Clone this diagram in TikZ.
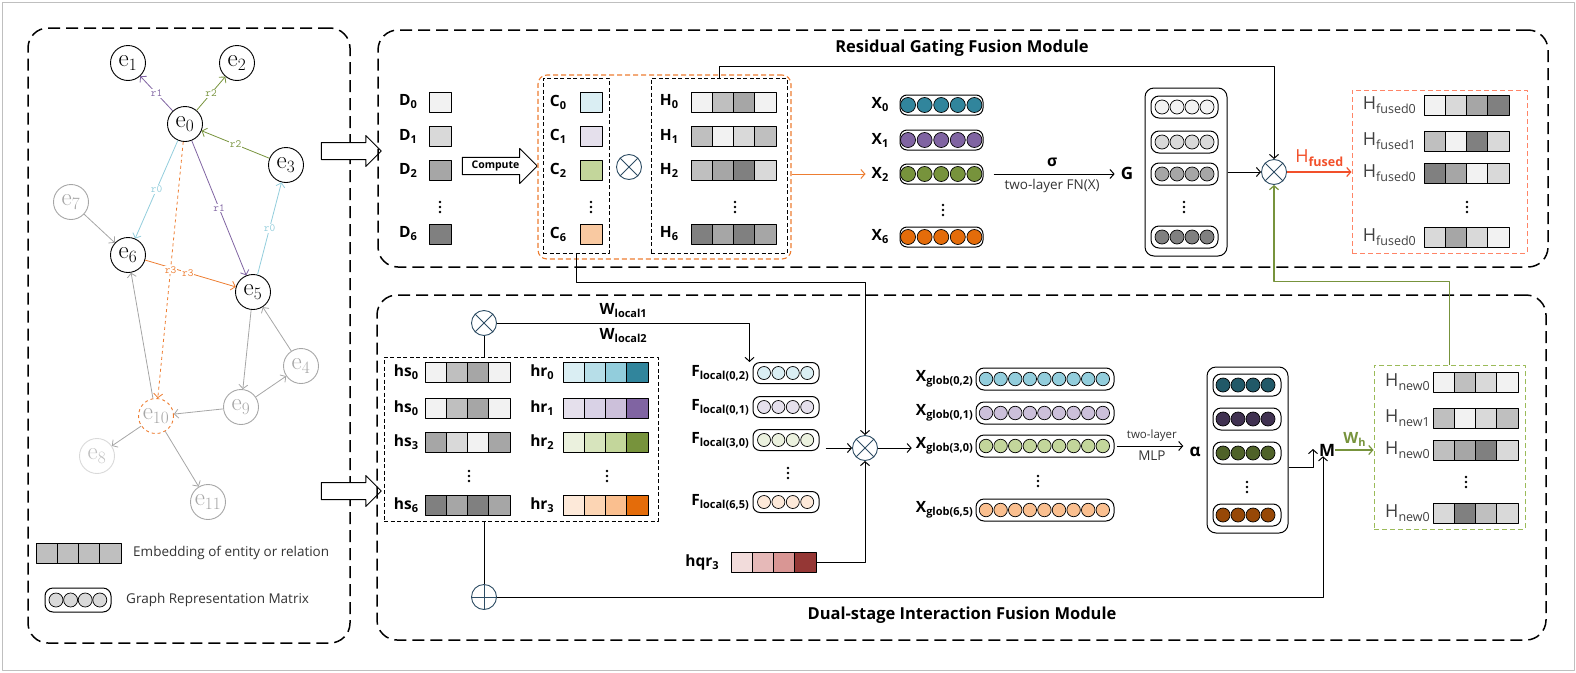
\documentclass[tikz,border=0pt]{standalone}
\usepackage{fontspec}
\newfontfamily\nsans{Open Sans}
\usetikzlibrary{arrows.meta,shapes.arrows,positioning}
\newcommand\sbs[1]{\raisebox{-3pt}{\fontsize{11}{12}\selectfont #1}}
\newcommand\sbr[1]{\raisebox{-3.5pt}{\fontsize{12.5}{13}\selectfont #1}}
% greys
\definecolor{g1}{HTML}{F2F2F2}\definecolor{g2}{HTML}{D9D9D9}\definecolor{g3}{HTML}{BFBFBF}
\definecolor{g4}{HTML}{A6A6A6}\definecolor{g5}{HTML}{808080}
% tints
\definecolor{b1}{HTML}{DAEEF3}\definecolor{b2}{HTML}{B7DEE8}\definecolor{b3}{HTML}{92CDDC}
\definecolor{b4}{HTML}{31859C}\definecolor{b5}{HTML}{215968}
\definecolor{p1}{HTML}{E5E0EC}\definecolor{p2}{HTML}{D9D2E6}\definecolor{p3}{HTML}{CCC0DA}
\definecolor{p4}{HTML}{8064A2}\definecolor{p5}{HTML}{403151}
\definecolor{v1}{HTML}{EBF1DE}\definecolor{v2}{HTML}{D7E4BD}\definecolor{v3}{HTML}{C3D69B}
\definecolor{v4}{HTML}{77933C}\definecolor{v5}{HTML}{4F6228}
\definecolor{o1}{HTML}{FDE9D9}\definecolor{o2}{HTML}{FCD5B4}\definecolor{o3}{HTML}{FABF8F}
\definecolor{o4}{HTML}{E46C0A}\definecolor{o5}{HTML}{974806}
\definecolor{q1}{HTML}{F2DCDB}\definecolor{q2}{HTML}{E6B9B8}\definecolor{q3}{HTML}{D99694}
\definecolor{q4}{HTML}{953735}
\definecolor{peach}{HTML}{F9C9A1}
\definecolor{eorange}{HTML}{ED7D31}
\definecolor{opc}{HTML}{2E4D64}
\definecolor{hred}{HTML}{F2502A}
\definecolor{hdash}{HTML}{FF8466}
\definecolor{hnew}{HTML}{9BBB59}
\begin{document}
\begin{tikzpicture}[x=1pt,y=-1pt,>={Straight Barb[length=4pt,width=9pt]},line join=round,
  modbox/.style={draw,line width=1.5pt,dash pattern=on 12pt off 6pt,rounded corners=20pt},
  inbox/.style={draw,line width=0.9pt,dash pattern=on 4pt off 2.5pt},
  emb/.style={draw,line width=0.9pt,minimum width=21.25pt,minimum height=20pt,inner sep=0pt},
  vecbox/.style={draw,line width=1pt,rounded corners=7pt,minimum height=21pt,inner sep=0pt},
  ball/.style={circle,draw,line width=0.7pt,minimum size=14pt,inner sep=0pt},
  lbl/.style={font=\nsans\bfseries\fontsize{15.5}{17}\selectfont,inner sep=0pt},
  lblr/.style={font=\nsans\fontsize{18}{20}\selectfont,text=black!75,inner sep=0pt},
  ttl/.style={font=\nsans\bfseries\fontsize{16.5}{18}\selectfont,inner sep=0pt},
  txt/.style={font=\nsans\fontsize{13.5}{15}\selectfont,text=black!80,inner sep=1pt},
  ent/.style={circle,draw,line width=0.9pt,minimum size=35pt,inner sep=0pt,font=\fontsize{25}{25}\selectfont},
  entg/.style={ent,draw=g4,text=g4},
  elab/.style={font=\ttfamily\fontsize{11}{11}\selectfont,fill=white,inner sep=0.8pt},
  gedge/.style={->,line width=0.8pt},
  link/.style={line width=1pt},
  opnode/.style={circle,draw=opc,line width=0.9pt,minimum size=25pt,inner sep=0pt,fill=white},
  otimes/.style={opnode,path picture={\draw[opc,line width=0.9pt] (path picture bounding box.north west)--(path picture bounding box.south east)
      (path picture bounding box.north east)--(path picture bounding box.south west);}},
  oplus/.style={opnode,path picture={\draw[opc,line width=0.9pt] (path picture bounding box.north)--(path picture bounding box.south)
      (path picture bounding box.east)--(path picture bounding box.west);}},
  bigarrow/.style={single arrow,draw,line width=1pt,fill=white,inner xsep=0pt,inner ysep=8pt,minimum height=60pt,single arrow head extend=7pt}]
\useasboundingbox (0,0) rectangle (1576,672);
\draw[g3,line width=0.8pt] (2,2) rectangle (1574,670);

% knowledge graph
\node[modbox,minimum width=322pt,minimum height=615pt] (kg) at (189,335.5) {};
\node[ent] (e0) at (185,124) {$\mathrm{e}_{0}$};
\node[ent] (e1) at (128,63) {$\mathrm{e}_{1}$};
\node[ent] (e2) at (237,63) {$\mathrm{e}_{2}$};
\node[ent] (e3) at (286,165) {$\mathrm{e}_{3}$};
\node[ent] (e5) at (253,292) {$\mathrm{e}_{5}$};
\node[ent] (e6) at (128,255) {$\mathrm{e}_{6}$};
\node[entg] (e4) at (301,366) {$\mathrm{e}_{4}$};
\node[entg] (e7) at (71,202) {$\mathrm{e}_{7}$};
\node[entg,draw=g2,text=g3] (e8) at (97,456) {$\mathrm{e}_{8}$};
\node[entg] (e9) at (241,407) {$\mathrm{e}_{9}$};
\node[entg,draw=eorange,dashed] (e10) at (156,416) {$\mathrm{e}_{10}$};
\node[entg] (e11) at (208,502) {$\mathrm{e}_{11}$};
\draw[gedge,p4] (e0) -- node[elab]{r1} (e1);
\draw[gedge,v4] (e0) -- node[elab]{r2} (e2);
\draw[gedge,v4] (e3) -- node[elab]{r2} (e0);
\draw[gedge,b3] (e0) -- node[elab]{r0} (e6);
\draw[gedge,p4] (e0) -- node[elab]{r1} (e5);
\draw[gedge,b3] (e5) -- node[elab]{r0} (e3);
\draw[gedge,eorange] (e6) -- node[elab,pos=0.47]{r3} (e5);
\draw[gedge,eorange,dashed] (e0) -- node[elab]{r3} (e10);
\foreach \s/\t in {e7/e6,e10/e6,e5/e9,e4/e5,e9/e4,e9/e10,e10/e8,e10/e11}
  \draw[gedge,g4] (\s) -- (\t);
% legend
\foreach \k in {1,...,4}
  \node[emb,fill=g3] (leg-\k) at ({25.375+\k*21.25},553) {};
\node[txt,anchor=west] (legE) at (132,553) {Embedding of entity or relation};
\node[vecbox,minimum width=66pt,minimum height=24pt,rounded corners=8pt] (legG) at (78,600) {};
\foreach \k in {0,...,3}
  \node[ball,fill=g2] (legG-\k) at ({56+\k*14.6},600) {};
\node[txt,anchor=west] (legM) at (125,600) {Graph Representation Matrix};
\node[bigarrow] (tarrow) at (347,151) {};
\node[bigarrow] (barrow) at (347,491) {};

% residual gating fusion
\node[modbox,minimum width=1170pt,minimum height=237pt] (rgf) at (963,148.5) {};
\node[ttl] (rgft) at (962,48) {Residual Gating Fusion Module};
\foreach \n/\y/\c in {0/102/g1,1/136/g2,2/170/g4,6/234/g5}{
  \node[lbl] (Dl\n) at (408,\y) {D\sbs{\n}};
  \node[emb,minimum width=22pt,fill=\c] (D\n) at (440,\y) {};
}
\node[single arrow,draw,line width=1pt,fill=white,inner xsep=2pt,inner ysep=3pt,minimum height=75pt,
  single arrow head extend=9pt,font=\nsans\bfseries\fontsize{10.5}{11}\selectfont] (compute) at (495.5,166) {Compute};
\node[draw=eorange,line width=1.1pt,dash pattern=on 5pt off 3pt,rounded corners=9pt,minimum width=253pt,minimum height=184pt] (CHbox) at (664.5,167) {};
\node[inbox,minimum width=66pt,minimum height=175pt] (Cbox) at (576,165.5) {};
\node[inbox,minimum width=136pt,minimum height=175pt] (Hbox) at (719,165.5) {};
\foreach \n/\y/\c in {0/102/b1,1/136/p1,2/170/v3,6/234/peach}{
  \node[lbl] (Cl\n) at (558,\y) {C\sbs{\n}};
  \node[emb,minimum width=22pt,fill=\c] (C\n) at (591,\y) {};
}
\node[otimes] (cmul) at (629,167) {};
\foreach \i/\y/\s/\cl in {0/102/0/{g1,g3,g4,g1},1/136/1/{g3,g1,g2,g3},2/170/2/{g3,g4,g5,g2},3/234/6/{g5,g4,g5,g4}}{
  \node[lbl] (Hl\i) at (669,\y) {H\sbs{\s}};
  \foreach \cc [count=\k] in \cl
    \node[emb,fill=\cc] (H\i-\k) at ({680.375+\k*21.25},\y) {};
}
\foreach \i/\y/\c in {0/105/b4,1/140/p4,2/174/v4,3/237/o4}{
  \node[vecbox,minimum width=83pt,minimum height=20pt] (Xr\i) at (941.5,\y) {};
  \foreach \k in {0,...,4}
    \node[ball,fill=\c,minimum size=15pt] (Xr\i-\k) at ({908+\k*16.6},\y) {};
}
\foreach \i/\y/\s in {0/105/0,1/140/1,2/174/2,3/237/6}
  \node[lbl] (Xl\i) at (880,\y) {X\sbs{\s}};
\node[lbl,font=\nsans\bfseries\fontsize{17}{18}\selectfont] (Gl) at (1127,173) {G};
\node[draw,line width=1pt,rounded corners=9pt,minimum width=82pt,minimum height=168pt] (Gbox) at (1186,172) {};
\foreach \i/\y/\c in {0/107/g1,1/142/g2,2/174/g4,3/237/g5}{
  \node[vecbox,minimum width=67pt,minimum height=22pt,rounded corners=8pt] (Gr\i) at (1184.5,\y) {};
  \foreach \k in {0,...,3}
    \node[ball,fill=\c] (Gr\i-\k) at ({1162+\k*15},\y) {};
}
\node[otimes] (fuse) at (1274,172) {};
\node[draw=hdash,line width=1pt,dash pattern=on 5pt off 3pt,minimum width=175pt,minimum height=163pt] (HFbox) at (1439.5,171.5) {};
\foreach \i/\y/\s/\cl in {0/105/0/{g1,g2,g4,g5},1/141/1/{g3,g1,g5,g2},2/173/0/{g5,g4,g1,g2},3/237/0/{g2,g4,g2,g1}}{
  \node[lblr,anchor=east] (HFl\i) at (1416,\y) {H\sbr{fused\s}};
  \foreach \cc [count=\k] in \cl
    \node[emb,fill=\cc] (HF\i-\k) at ({1413.375+\k*21.25},\y) {};
}
\draw[link,->] (Hbox.north) -- ++(0,-11) -| (fuse.north);
\draw[link,->,eorange,shorten >=6pt] (CHbox.east |- Xl2) -- (Xl2.west);
\draw[link,->,shorten <=10pt,shorten >=6pt] (Xr2.east) -- (Gl.west |- Xr2)
  node[midway,above=7pt,lbl]{σ} node[midway,below=4pt,txt]{two-layer FN(X)};
\draw[link,->] (Gbox.east |- fuse) -- (fuse.west);
\draw[->,hred,line width=1.2pt] (fuse.east) -- (HFbox.west |- fuse)
  node[midway,above=5pt,inner sep=0pt,font=\nsans\fontsize{18}{20}\selectfont,text=hred]{H\sbr{\bfseries fused}};

% dual-stage interaction fusion
\node[modbox,minimum width=1169pt,minimum height=345pt] (dif) at (961.5,467.5) {};
\node[ttl] (dift) at (962,615) {Dual-stage Interaction Fusion Module};
\node[otimes] (wmul) at (484,323) {};
\node[inbox,minimum width=274pt,minimum height=164pt] (hsbox) at (521,439) {};
\foreach \i/\y/\s/\cl in {0/372/0/{g1,g3,g4,g1},1/408/0/{g1,g3,g4,g1},2/442/3/{g4,g2,g1,g4},3/505/6/{g5,g4,g5,g4}}{
  \node[lbl] (hsl\i) at (406,\y) {hs\sbs{\s}};
  \foreach \cc [count=\k] in \cl
    \node[emb,fill=\cc] (hs\i-\k) at ({414.375+\k*21.25},\y) {};
}
\foreach \i/\y/\s/\cl in {0/372/0/{b1,b2,b3,b4},1/408/1/{p1,p2,p3,p4},2/442/2/{v1,v2,v3,v4},3/505/3/{o1,o2,o3,o4}}{
  \node[lbl] (hrl\i) at (542,\y) {hr\sbs{\s}};
  \foreach \cc [count=\k] in \cl
    \node[emb,fill=\cc] (hr\i-\k) at ({552.375+\k*21.25},\y) {};
}
\node[oplus] (wadd) at (484,597) {};
\foreach \i/\y/\s/\c in {0/373/{(0,2)}/b1,1/407/{(0,1)}/p1,2/440/{(3,0)}/v1,3/502/{(6,5)}/o1}{
  \node[lbl,anchor=east] (Fl\i) at (749,\y) {F\sbs{local\s}};
  \node[vecbox,minimum width=66pt] (Fr\i) at (786,\y) {};
  \foreach \k in {0,...,3}
    \node[ball,fill=\c,minimum size=13pt] (Fr\i-\k) at ({764+\k*14.4},\y) {};
}
\node[lbl] (hqrl) at (702,562) {hqr\sbs{3}};
\foreach \cc [count=\k] in {q1,q2,q3,q4}
  \node[emb,fill=\cc] (hqr-\k) at ({720.375+\k*21.25},562) {};
\node[otimes] (gmul) at (865,448) {};
\foreach \i/\y/\s/\c in {0/379/{(0,2)}/b3,1/413/{(0,1)}/p3,2/446/{(3,0)}/v3,3/510/{(6,5)}/o3}{
  \node[lbl,anchor=east] (Xgl\i) at (973,\y) {X\sbs{glob\s}};
  \node[vecbox,minimum width=138pt,minimum height=22pt,rounded corners=8pt] (Xg\i) at (1045,\y) {};
  \foreach \k in {0,...,8}
    \node[ball,fill=\c,minimum size=13.5pt] (Xg\i-\k) at ({986+\k*14.6},\y) {};
}
\node[lbl,font=\nsans\bfseries\fontsize{17}{18}\selectfont] (alpha) at (1195,452) {α};
\node[draw,line width=1pt,rounded corners=9pt,minimum width=81pt,minimum height=166pt] (abox) at (1247.5,450) {};
\foreach \i/\y/\c in {0/385/b5,1/419/p5,2/453/v5,3/515/o5}{
  \node[vecbox,minimum width=68pt,minimum height=22pt,rounded corners=8pt] (ar\i) at (1247,\y) {};
  \foreach \k in {0,...,3}
    \node[ball,fill=\c] (ar\i-\k) at ({1223+\k*15},\y) {};
}
\node[lbl,font=\nsans\bfseries\fontsize{17}{18}\selectfont] (Ml) at (1327,450) {M};
\coordinate (Min) at (1313,449);
\node[draw=hnew,line width=1pt,dash pattern=on 5pt off 3pt,minimum width=151pt,minimum height=164pt] (Hnbox) at (1449.5,447) {};
\foreach \i/\y/\s/\cl in {0/382/0/{g1,g3,g2,g1},1/418/1/{g3,g1,g2,g3},2/450/0/{g3,g4,g5,g2},3/513/0/{g2,g5,g3,g2}}{
  \node[lblr,anchor=east] (Hnl\i) at (1430,\y) {H\sbr{new\s}};
  \foreach \cc [count=\k] in \cl
    \node[emb,fill=\cc] (Hn\i-\k) at ({1422.375+\k*21.25},\y) {};
}
% vertical dots
\foreach \x/\y in {440/207,591/207,735/207,943/210,1184/207,1467/207,469/476,607/476,788/473,1038/481,1247/487,1466/482}
  \foreach \d in {-5,0,5}
    \fill (\x,\y+\d) circle (1.4pt);
\draw[link,->] (wmul.east) -| ([xshift=-3pt]Fr0.north west)
  node[pos=0.25,above=5pt,lbl]{W\sbs{local1}} node[pos=0.25,below=5pt,lbl]{W\sbs{local2}};
\draw[link] (wmul.south) -- (wmul.south |- hsbox.north);
\draw[link] (wmul.south |- hsbox.south) -- (wadd.north);
\draw[link,->] (wadd.east) -| ([xshift=-4pt]Ml.south);
\draw[link,->] (Cbox.south) -- ++(0,29) -| (gmul.north);
\draw[link,->,shorten <=6pt] (Fr2.east |- gmul) -- (gmul.west);
\draw[link,->] (hqr-4.east) -| (gmul.south);
\draw[link,->,shorten >=4pt] (gmul.east) -- (Xgl2.west |- gmul);
\draw[link,->,shorten <=2pt,shorten >=6pt] (Xg2.east) -- (alpha.west |- Xg2)
  node[midway,above=1pt,font=\nsans\fontsize{11.5}{12}\selectfont,text=black!80]{two-layer}
  node[midway,below=3pt,txt]{MLP};
\draw[link,->] ([yshift=-17pt]abox.east) -| (Min);
\draw[->,v4,line width=1.2pt] (Ml.east) -- (Hnbox.west |- Ml)
  node[midway,above=3pt,lbl,text=v4]{W\sbs{h}};
\draw[->,v4,line width=1.2pt] (Hnbox.north) -- ++(0,-83) -| (fuse.south);
\end{tikzpicture}
\end{document}
